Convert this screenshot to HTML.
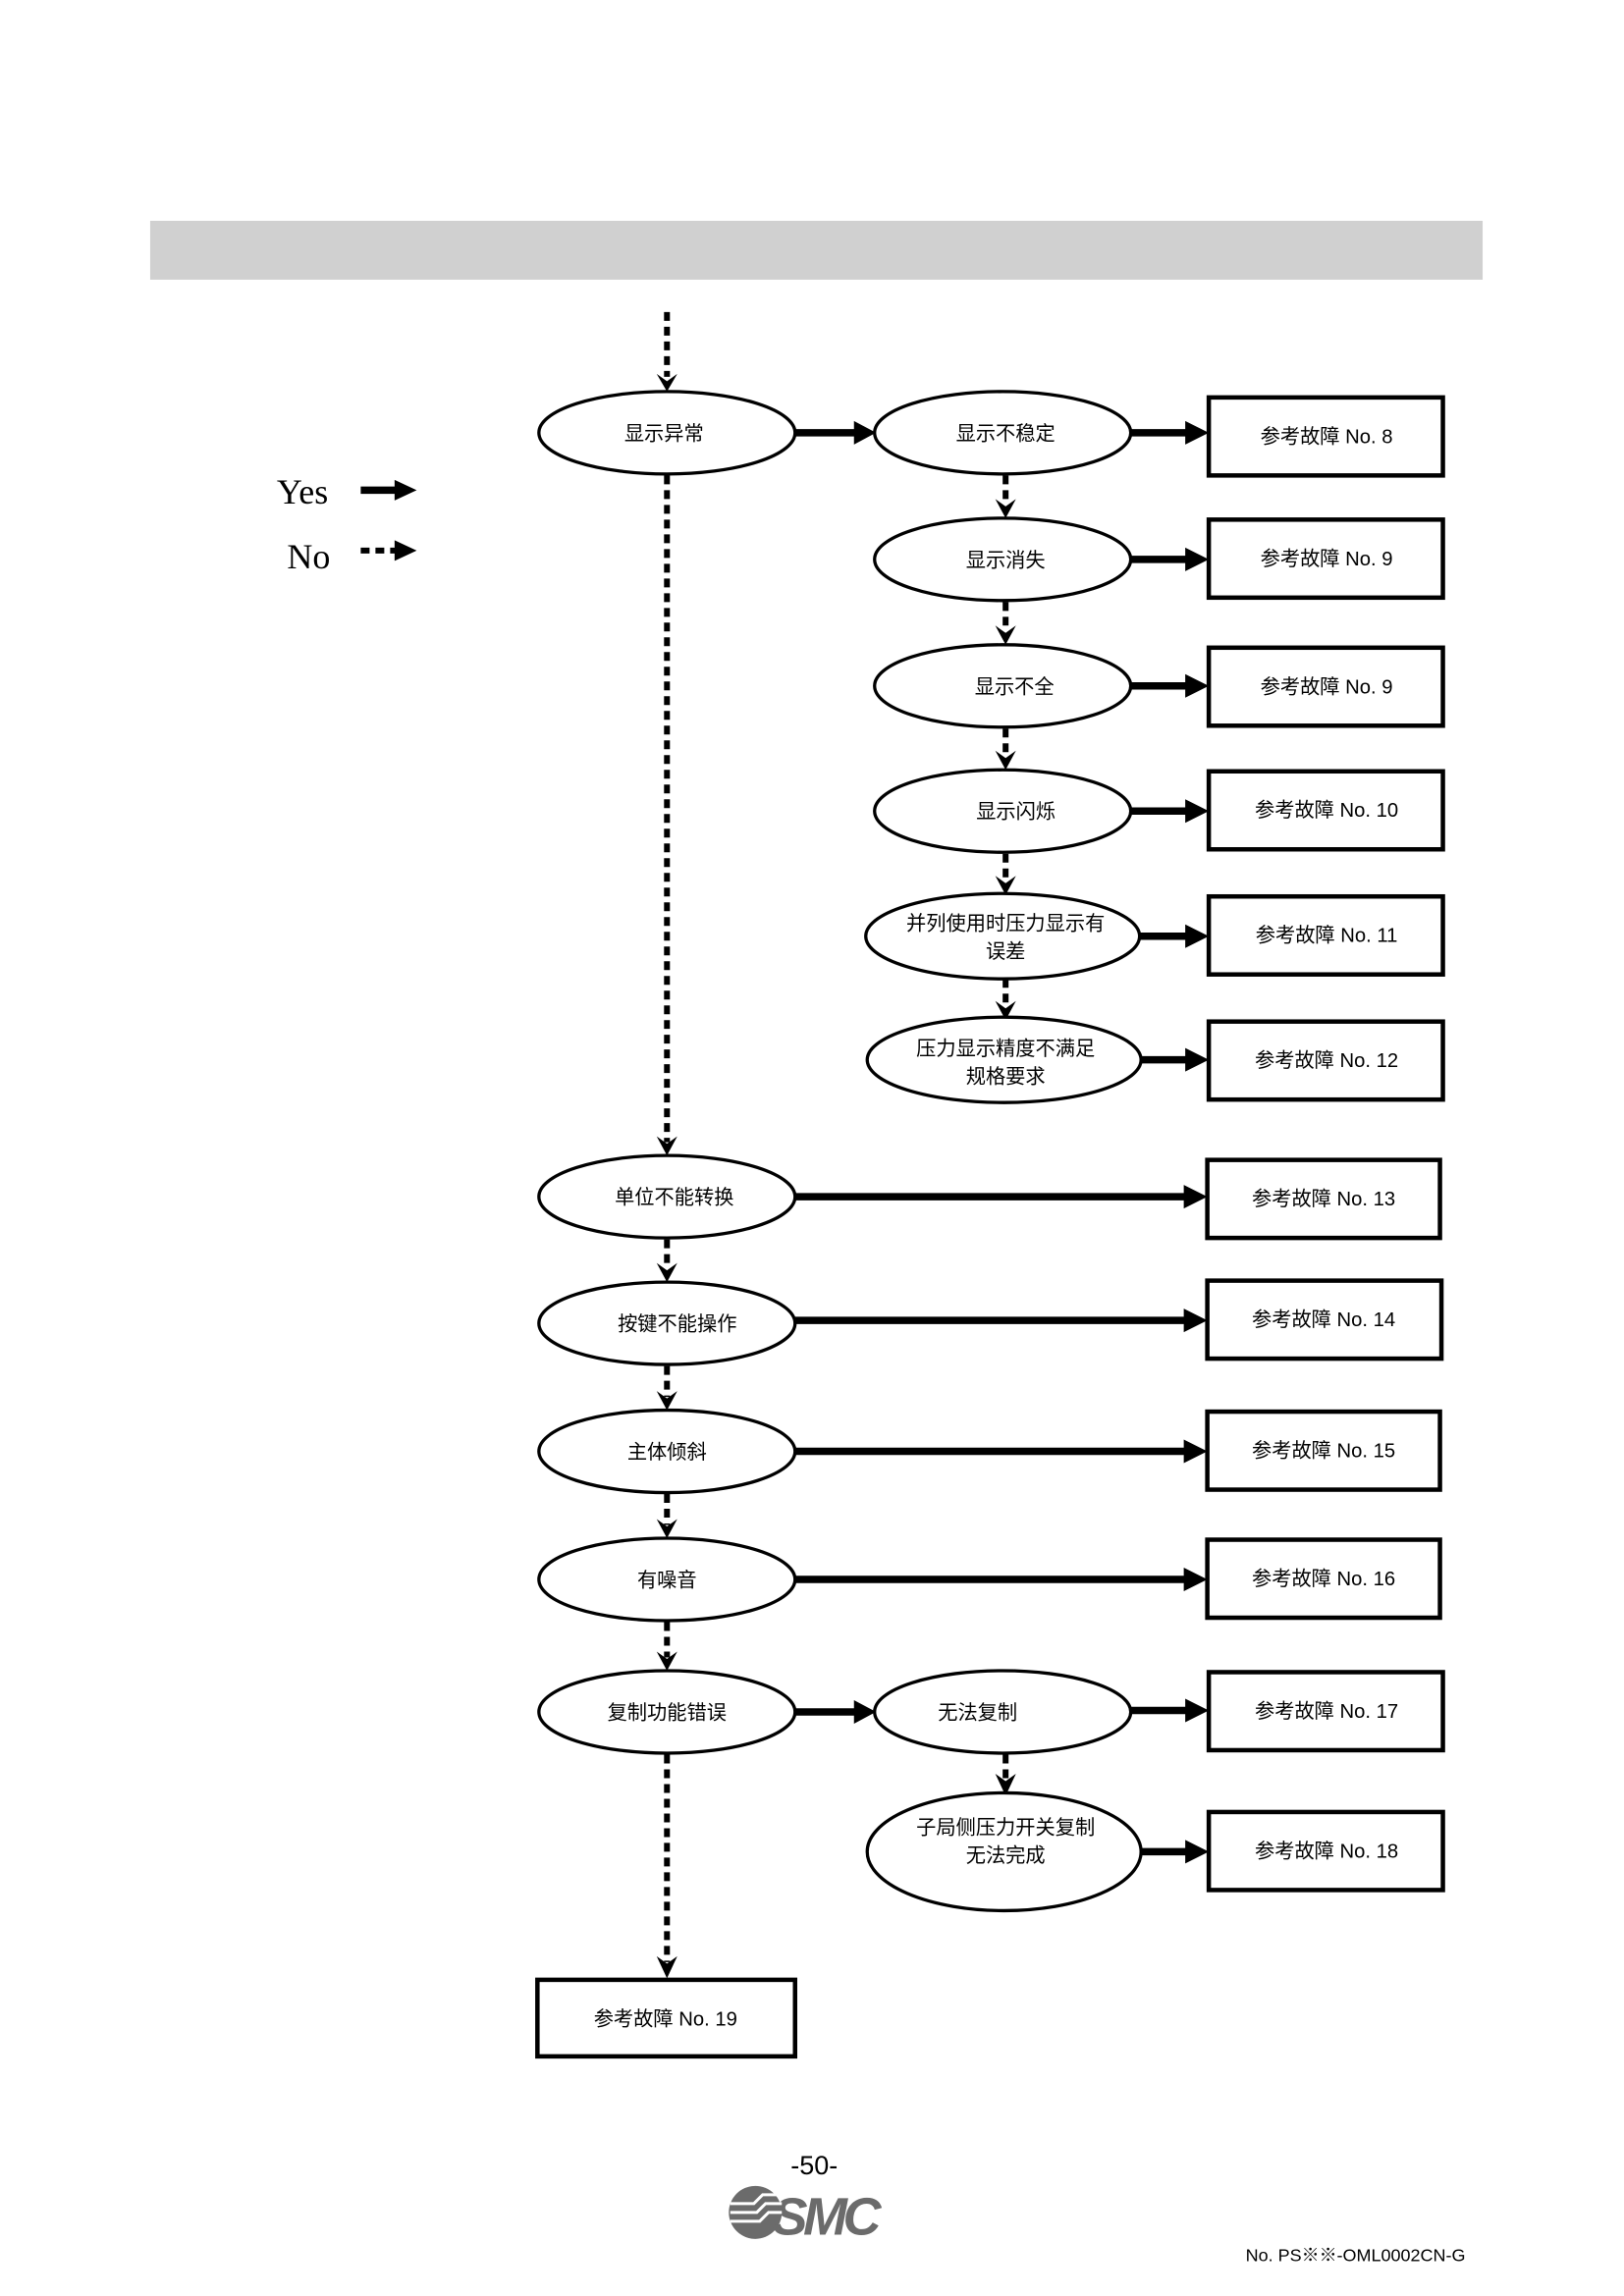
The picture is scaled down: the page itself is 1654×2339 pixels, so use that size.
<!DOCTYPE html>
<html><head><meta charset="utf-8"><style>
html,body{margin:0;padding:0;background:#fff;}
svg{display:block;}
text{font-family:"Liberation Sans","Noto Sans CJK SC",sans-serif;fill:#000;}
.e{fill:#fff;stroke:#000;stroke-width:2.2;}
.b{fill:#fff;stroke:#000;stroke-width:3;}
.y{stroke:#000;stroke-width:5;}
.n{stroke:#000;stroke-width:4;stroke-dasharray:6,4;}
.t{font-size:13.5px;text-anchor:middle;}
.s{font-family:"Liberation Serif","Noto Serif CJK SC",serif;}
</style></head><body>
<svg width="1654" height="2339" viewBox="0 0 1103 1559.8" xmlns="http://www.w3.org/2000/svg">
<rect x="102" y="150" width="905" height="40" fill="#d0d0d0"/>
<!-- legend -->
<text x="188" y="342" class="s" style="font-size:24px;font-family:'Liberation Serif',serif">Yes</text>
<text x="195" y="386" style="font-size:24px;font-family:'Liberation Serif',serif">No</text>
<line x1="245" y1="333" x2="270" y2="333" class="y"/><polygon points="268,326 283,333 268,340"/>
<line x1="245" y1="374" x2="270" y2="374" class="n" stroke-dasharray="5,3"/><polygon points="268,367 283,374 268,381"/>

<!-- dotted verticals left -->
<line x1="453" y1="212" x2="453" y2="256" class="n"/>
<line x1="453" y1="323" x2="453" y2="776" class="n"/>
<line x1="453" y1="842" x2="453" y2="862" class="n"/>
<line x1="453" y1="928" x2="453" y2="949" class="n"/>
<line x1="453" y1="1015" x2="453" y2="1036" class="n"/>
<line x1="453" y1="1102" x2="453" y2="1126" class="n"/>
<line x1="453" y1="1192" x2="453" y2="1333" class="n"/>
<!-- dotted verticals right -->
<line x1="683" y1="323" x2="683" y2="343" class="n"/>
<line x1="683" y1="409" x2="683" y2="429" class="n"/>
<line x1="683" y1="495" x2="683" y2="514" class="n"/>
<line x1="683" y1="580" x2="683" y2="599" class="n"/>
<line x1="683" y1="665" x2="683" y2="684" class="n"/>
<line x1="683" y1="1192" x2="683" y2="1209" class="n"/>
<g fill="#000">
<polygon points="446,254 453,266 460,254 453,259"/>
<polygon points="446,772 453,785 460,772 453,777"/>
<polygon points="446,858 453,871 460,858 453,863"/>
<polygon points="446,945 453,958 460,945 453,950"/>
<polygon points="446,1032 453,1045 460,1032 453,1037"/>
<polygon points="446,1122 453,1135 460,1122 453,1127"/>
<polygon points="446,1329 453,1344 460,1329 453,1334"/>
<polygon points="676,339 683,352 690,339 683,344"/>
<polygon points="676,425 683,438 690,425 683,430"/>
<polygon points="676,510 683,523 690,510 683,515"/>
<polygon points="676,595 683,608 690,595 683,600"/>
<polygon points="676,680 683,693 690,680 683,685"/>
<polygon points="676,1205 683,1220 690,1205 683,1210"/>
</g>

<!-- solid arrows -->
<g>
<line x1="540" y1="294" x2="585" y2="294" class="y"/><polygon points="580,286 595,294 580,302"/>
<line x1="540" y1="1163" x2="585" y2="1163" class="y"/><polygon points="580,1155 595,1163 580,1171"/>
<line x1="767" y1="294" x2="810" y2="294" class="y"/><polygon points="805,286 821,294 805,302"/>
<line x1="767" y1="380" x2="810" y2="380" class="y"/><polygon points="805,372 821,380 805,388"/>
<line x1="767" y1="466" x2="810" y2="466" class="y"/><polygon points="805,458 821,466 805,474"/>
<line x1="767" y1="551" x2="810" y2="551" class="y"/><polygon points="805,543 821,551 805,559"/>
<line x1="773" y1="636" x2="810" y2="636" class="y"/><polygon points="805,628 821,636 805,644"/>
<line x1="773" y1="720" x2="810" y2="720" class="y"/><polygon points="805,712 821,720 805,728"/>
<line x1="540" y1="813" x2="808" y2="813" class="y"/><polygon points="804,805 820,813 804,821"/>
<line x1="540" y1="897" x2="808" y2="897" class="y"/><polygon points="804,889 820,897 804,905"/>
<line x1="540" y1="986" x2="808" y2="986" class="y"/><polygon points="804,978 820,986 804,994"/>
<line x1="540" y1="1073" x2="808" y2="1073" class="y"/><polygon points="804,1065 820,1073 804,1081"/>
<line x1="767" y1="1162" x2="810" y2="1162" class="y"/><polygon points="805,1154 821,1162 805,1170"/>
<line x1="775" y1="1258" x2="810" y2="1258" class="y"/><polygon points="805,1250 821,1258 805,1266"/>
</g>

<!-- left ellipses -->
<ellipse cx="453" cy="294" rx="87" ry="28" class="e"/><text x="451" y="299" class="t">显示异常</text>
<ellipse cx="453" cy="813" rx="87" ry="28" class="e"/><text x="458" y="818" class="t">单位不能转换</text>
<ellipse cx="453" cy="899" rx="87" ry="28" class="e"/><text x="460" y="904" class="t">按键不能操作</text>
<ellipse cx="453" cy="986" rx="87" ry="28" class="e"/><text x="453" y="991" class="t">主体倾斜</text>
<ellipse cx="453" cy="1073" rx="87" ry="28" class="e"/><text x="453" y="1078" class="t">有噪音</text>
<ellipse cx="453" cy="1163" rx="87" ry="28" class="e"/><text x="453" y="1168" class="t">复制功能错误</text>
<!-- right ellipses -->
<ellipse cx="681" cy="294" rx="87" ry="28" class="e"/><text x="683" y="299" class="t">显示不稳定</text>
<ellipse cx="681" cy="380" rx="87" ry="28" class="e"/><text x="683" y="385" class="t">显示消失</text>
<ellipse cx="681" cy="466" rx="87" ry="28" class="e"/><text x="689" y="471" class="t">显示不全</text>
<ellipse cx="681" cy="551" rx="87" ry="28" class="e"/><text x="690" y="556" class="t">显示闪烁</text>
<ellipse cx="681" cy="636" rx="93" ry="29" class="e"/><text x="683" y="632" class="t">并列使用时压力显示有</text><text x="683" y="651" class="t">误差</text>
<ellipse cx="682" cy="720" rx="93" ry="29" class="e"/><text x="683" y="717" class="t">压力显示精度不满足</text><text x="683" y="736" class="t">规格要求</text>
<ellipse cx="681" cy="1163" rx="87" ry="28" class="e"/><text x="664" y="1168" class="t">无法复制</text>
<ellipse cx="682" cy="1258" rx="93" ry="40" class="e"/><text x="683" y="1246" class="t">子局侧压力开关复制</text><text x="683" y="1265" class="t">无法完成</text>

<!-- boxes -->
<g>
<rect x="821" y="270" width="159" height="53" class="b"/><text x="901" y="301" class="t">参考故障 No. 8</text>
<rect x="821" y="353" width="159" height="53" class="b"/><text x="901" y="384" class="t">参考故障 No. 9</text>
<rect x="821" y="440" width="159" height="53" class="b"/><text x="901" y="471" class="t">参考故障 No. 9</text>
<rect x="821" y="524" width="159" height="53" class="b"/><text x="901" y="555" class="t">参考故障 No. 10</text>
<rect x="821" y="609" width="159" height="53" class="b"/><text x="901" y="640" class="t">参考故障 No. 11</text>
<rect x="821" y="694" width="159" height="53" class="b"/><text x="901" y="725" class="t">参考故障 No. 12</text>
<rect x="820" y="788" width="158" height="53" class="b"/><text x="899" y="819" class="t">参考故障 No. 13</text>
<rect x="820" y="870" width="159" height="53" class="b"/><text x="899" y="901" class="t">参考故障 No. 14</text>
<rect x="820" y="959" width="158" height="53" class="b"/><text x="899" y="990" class="t">参考故障 No. 15</text>
<rect x="820" y="1046" width="158" height="53" class="b"/><text x="899" y="1077" class="t">参考故障 No. 16</text>
<rect x="821" y="1136" width="159" height="53" class="b"/><text x="901" y="1167" class="t">参考故障 No. 17</text>
<rect x="821" y="1231" width="159" height="53" class="b"/><text x="901" y="1262" class="t">参考故障 No. 18</text>
<rect x="365" y="1345" width="175" height="52" class="b"/><text x="452" y="1376" class="t">参考故障 No. 19</text>
</g>

<!-- footer -->
<text x="553" y="1477" class="t" style="font-size:18px">-50-</text>
<g fill="#6b6b6b">
<circle cx="513" cy="1503" r="18"/>
<text x="560" y="1518" style="font-size:36px;font-weight:bold;font-style:italic;fill:#6b6b6b;text-anchor:middle;letter-spacing:-3px">SMC</text>
</g>
<g stroke="#fff" stroke-width="2" fill="none">
<path d="M496,1497 L512,1497 L518,1491 L530,1491"/>
<path d="M496,1503 L514,1503 L520,1497 L531,1497"/>
<path d="M496,1509 L516,1509 L522,1503 L531,1503"/>
</g>
<text x="846" y="1536" style="font-size:12px">No. PS※※-OML0002CN-G</text>
</svg>
</body></html>
